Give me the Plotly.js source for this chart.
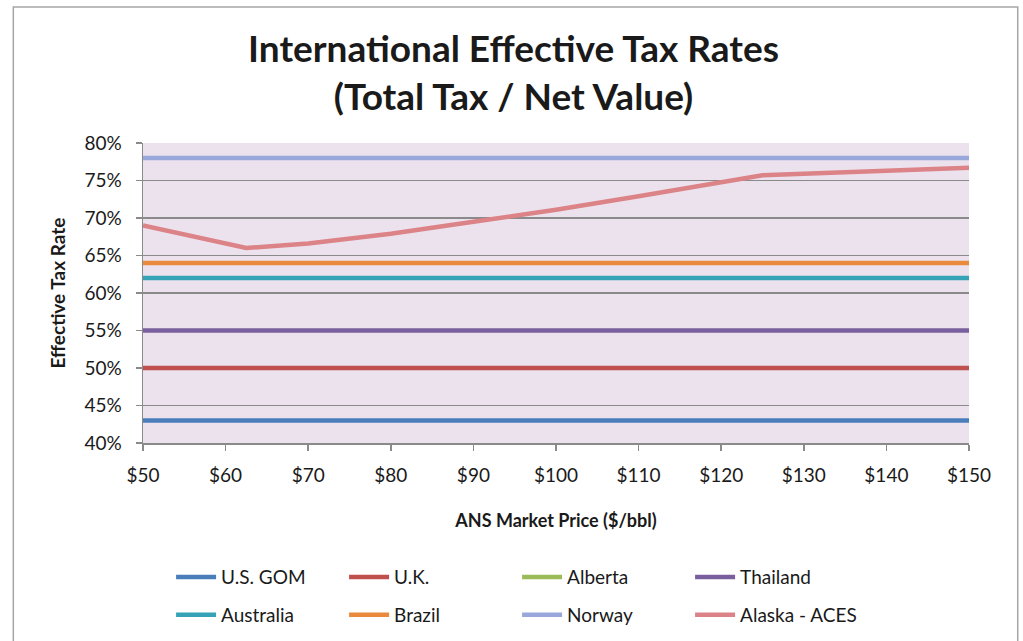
<!DOCTYPE html>
<html>
<head>
<meta charset="utf-8">
<script src="https://cdn.plot.ly/plotly-3.0.1.min.js"></script>
<style>
  html, body { margin: 0; padding: 0; background: #fff; }
  #chart { width: 1023px; height: 641px; }
</style>
</head>
<body>
<div id="chart"></div>
<script>
// ── DATA ────────────────────────────────────────────
const PRICES      = [50, 150];                 // flat-rate regimes, $/bbl
const US_GOM      = [0.43, 0.43];
const UK          = [0.50, 0.50];
const ALBERTA     = [0.36, 0.36];              // below the 40% floor, not visible
const THAILAND    = [0.55, 0.55];
const AUSTRALIA   = [0.62, 0.62];
const BRAZIL      = [0.64, 0.64];
const NORWAY      = [0.78, 0.78];

const ACES_PRICES = [50, 55, 58, 62.5, 70, 80, 90, 100, 110, 120, 125, 150];
const ACES_RATES  = [0.690, 0.678, 0.671, 0.660, 0.666, 0.679, 0.695, 0.711, 0.729, 0.748, 0.757, 0.767];

const X_TICKS  = [50, 60, 70, 80, 90, 100, 110, 120, 130, 140, 150];
const X_LABELS = ['$50', '$60', '$70', '$80', '$90', '$100', '$110', '$120', '$130', '$140', '$150'];
const Y_TICKS  = [0.40, 0.45, 0.50, 0.55, 0.60, 0.65, 0.70, 0.75, 0.80];

const FONT = 'Lato, "Open Sans", sans-serif';
const INK  = '#1a1a1a';

// series: name, x, y, colour, legend row
const SERIES = [
  ['U.S. GOM',      PRICES,      US_GOM,     '#4a7ebb', 'legend'],
  ['U.K.',          PRICES,      UK,         '#c0504d', 'legend'],
  ['Alberta',       PRICES,      ALBERTA,    '#9bbb59', 'legend'],
  ['Thailand',      PRICES,      THAILAND,   '#7a5f9e', 'legend'],
  ['Australia',     PRICES,      AUSTRALIA,  '#35a3b5', 'legend2'],
  ['Brazil',        PRICES,      BRAZIL,     '#ea8a3c', 'legend2'],
  ['Norway',        PRICES,      NORWAY,     '#98a8da', 'legend2'],
  ['Alaska - ACES', ACES_PRICES, ACES_RATES, '#dc8387', 'legend2'],
];

const traces = SERIES.map(([name, x, y, color, lg]) => ({
  x, y, name, type: 'scatter', mode: 'lines',
  line: { color, width: 4.5 },
  legend: lg,
  hoverinfo: 'skip'
}));

// ── LAYOUT ──────────────────────────────────────────
const legendBase = {
  orientation: 'h', xanchor: 'left', yanchor: 'middle',
  x: 0.034, entrywidth: 118, entrywidthmode: 'pixels',
  bgcolor: 'rgba(0,0,0,0)', font: { family: FONT, size: 19, color: INK },
  itemwidth: 40
};

const layout = {
  width: 1023, height: 641,
  paper_bgcolor: '#ffffff',
  plot_bgcolor: '#ece2ee',
  // fixed plot box; legends sit in the bottom margin without pushing it
  margin: { l: 143, r: 54, t: 143, b: 198, autoexpand: false },
  font: { family: FONT, color: INK },
  title: {
    text: '<b>International Effective Tax Rates<br>(Total Tax / Net Value)</b>',
    font: { family: FONT, size: 37, color: INK },
    x: 0.502, xanchor: 'center', y: 0.903, yanchor: 'middle'
  },
  xaxis: {
    range: [50, 150], tickmode: 'array', tickvals: X_TICKS, ticktext: X_LABELS,
    ticks: 'outside', ticklen: 6, tickcolor: '#8a8a8a', tickwidth: 1.5,
    ticklabelstandoff: 9,
    showgrid: false, zeroline: false,
    showline: true, linecolor: '#8a8a8a', linewidth: 1.5,
    tickfont: { family: FONT, size: 19, color: INK },
    title: { text: '<b>ANS Market Price ($/bbl)</b>', font: { family: FONT, size: 18, color: INK }, standoff: 29 },
    fixedrange: true
  },
  yaxis: {
    range: [0.40, 0.80], tickvals: Y_TICKS, tickformat: '.0%',
    ticks: 'outside', ticklen: 6, tickcolor: '#8a8a8a', tickwidth: 1.5,
    ticklabelstandoff: 10,
    showgrid: true, gridcolor: '#8a8a8a', gridwidth: 1.5, zeroline: false,
    showline: true, linecolor: '#8a8a8a', linewidth: 1.5,
    tickfont: { family: FONT, size: 19, color: INK },
    title: { text: '<b>Effective Tax Rate</b>', font: { family: FONT, size: 19, color: INK }, standoff: 14 },
    fixedrange: true
  },
  showlegend: true,
  legend:  { ...legendBase, y: -0.447 },
  legend2: { ...legendBase, y: -0.573 },
  shapes: [{
    type: 'rect', xref: 'paper', yref: 'paper',
    x0: -0.157, x1: 1.059, y0: -0.68, y1: 1.453,
    line: { color: '#a6a6a6', width: 1.5 }, layer: 'below'
  }]
};

Plotly.newPlot('chart', traces, layout, { displayModeBar: false, staticPlot: true });
</script>
</body>
</html>
